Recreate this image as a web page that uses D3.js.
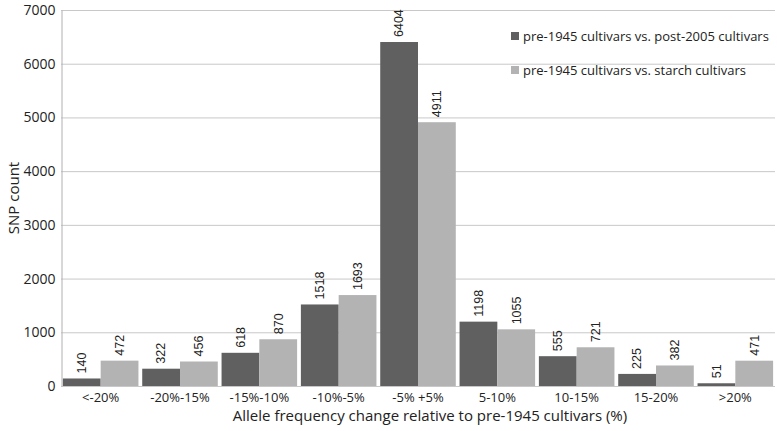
<!DOCTYPE html>
<html>
<head>
<meta charset="utf-8">
<script src="https://cdn.jsdelivr.net/npm/d3@7"></script>
<style>
  body { margin: 0; background: #fff; }
  text { font-family: "Open Sans", "Liberation Sans", sans-serif; }
</style>
</head>
<body>
<div id="chart"></div>
<script>
// data
const categories = ["<-20%", "-20%-15%", "-15%-10%", "-10%-5%", "-5% +5%", "5-10%", "10-15%", "15-20%", ">20%"];
const seriesNames = ["pre-1945 cultivars vs. post-2005 cultivars", "pre-1945 cultivars vs. starch cultivars"];
const post2005 = [140, 322, 618, 1518, 6404, 1198, 555, 225, 51];
const starch = [472, 456, 870, 1693, 4911, 1055, 721, 382, 471];
const yTicks = [0, 1000, 2000, 3000, 4000, 5000, 6000, 7000];

const width = 777, height = 431;
const margin = { top: 10, right: 2, bottom: 45, left: 61 };
const colors = ["#606060", "#b3b3b3"];

var svg = d3.select("#chart").append("svg")
  .attr("width", width)
  .attr("height", height);

var x = d3.scaleBand()
  .domain(categories)
  .range([margin.left, width - margin.right])
  .paddingInner(0)
  .paddingOuter(0);

var x1 = d3.scaleBand()
  .domain([0, 1])
  .range([0, x.bandwidth()])
  .paddingInner(0)
  .paddingOuter(0.05);

var y = d3.scaleLinear()
  .domain([0, 7000])
  .range([height - margin.bottom, margin.top]);

// grid lines
svg.append("g")
  .selectAll("line")
  .data(yTicks)
  .enter().append("line")
    .attr("x1", margin.left)
    .attr("x2", width - margin.right)
    .attr("y1", (d) => { return y(d) + 0.5; })
    .attr("y2", (d) => { return y(d) + 0.5; })
    .attr("stroke", "#c8c8c8")
    .attr("stroke-width", 1);

// y axis
var yAxis = svg.append("g")
  .attr("transform", "translate(" + (margin.left + 0.5) + ",0)")
  .call(d3.axisLeft(y).tickValues(yTicks).tickSize(0).tickPadding(6).tickFormat(d3.format("d")));
yAxis.select(".domain").attr("stroke", "#b0b0b0");
yAxis.selectAll("text")
  .attr("font-size", 14)
  .attr("fill", "#222")
  .style("font-family", "'Open Sans', sans-serif");

// x axis
var xAxis = svg.append("g")
  .attr("transform", "translate(0," + (height - margin.bottom) + ")")
  .call(d3.axisBottom(x).tickSize(0).tickPadding(7));
xAxis.select(".domain").remove();
xAxis.selectAll("text")
  .attr("font-size", 13)
  .attr("fill", "#222")
  .style("font-family", "'Open Sans', sans-serif");

// bars
var rows = categories.map((c, i) => { return { cat: c, vals: [post2005[i], starch[i]] }; });

var groups = svg.append("g")
  .selectAll("g")
  .data(rows)
  .enter().append("g")
    .attr("transform", (d) => { return "translate(" + x(d.cat) + ",0)"; });

groups.selectAll("rect")
  .data((d) => { return d.vals.map((v, k) => { return { k: k, v: v }; }); })
  .enter().append("rect")
    .attr("x", (d) => { return x1(d.k); })
    .attr("width", x1.bandwidth())
    .attr("y", (d) => { return y(d.v); })
    .attr("height", (d) => { return y(0) - y(d.v); })
    .attr("fill", (d) => { return colors[d.k]; });

groups.selectAll("text.val")
  .data((d) => { return d.vals.map((v, k) => { return { k: k, v: v }; }); })
  .enter().append("text")
    .attr("class", "val")
    .attr("transform", (d) => {
      return "translate(" + (x1(d.k) + x1.bandwidth() / 2) + "," + (y(d.v) - 5) + ") rotate(-90)";
    })
    .attr("dy", "0.35em")
    .attr("text-anchor", "start")
    .attr("font-size", 12.5)
    .attr("fill", "#222")
    .style("font-family", "'Liberation Sans', Arial, sans-serif")
    .text((d) => { return d.v; });

// axis titles
svg.append("text")
  .attr("transform", "translate(14," + ((margin.top + height - margin.bottom) / 2) + ") rotate(-90)")
  .attr("text-anchor", "middle")
  .attr("dy", "0.35em")
  .attr("font-size", 15)
  .attr("fill", "#222")
  .text("SNP count");

svg.append("text")
  .attr("x", 430)
  .attr("y", 421)
  .attr("text-anchor", "middle")
  .attr("font-size", 15)
  .attr("fill", "#222")
  .text("Allele frequency change relative to pre-1945 cultivars (%)");

// legend
var legend = svg.append("g")
  .selectAll("g")
  .data(seriesNames)
  .enter().append("g")
    .attr("transform", (d, i) => { return "translate(511," + (36 + i * 34) + ")"; });

legend.append("rect")
  .attr("x", 0)
  .attr("y", -4)
  .attr("width", 8)
  .attr("height", 8)
  .attr("fill", (d, i) => { return colors[i]; });

legend.append("text")
  .attr("x", 12)
  .attr("dy", "0.35em")
  .attr("font-size", 13)
  .attr("fill", "#222")
  .text((d) => { return d; });
</script>
</body>
</html>
